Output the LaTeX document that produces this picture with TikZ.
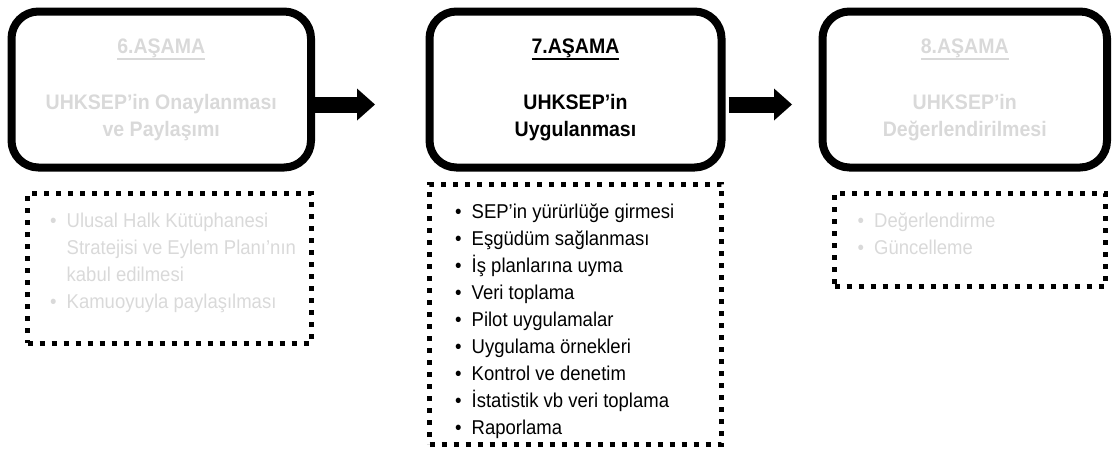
\documentclass[tikz,border=0pt]{standalone}
\usepackage{fontspec}
\setmainfont{Liberation Sans}
\newfontfamily\stagefont[FakeStretch=0.93]{Liberation Sans}
\newfontfamily\itemfont[FakeStretch=0.925]{Liberation Sans}
\usetikzlibrary{positioning,arrows.meta}

\definecolor{faded}{RGB}{217,217,217}
\newcommand{\bul}{\makebox[16.5pt][l]{•}}
\newcommand{\nobul}{\hspace*{16.5pt}}
\newcommand{\stageul}[1]{\setbox0\hbox{#1}\rlap{\rule[-6.7pt]{\wd0}{2pt}}\box0}

\begin{document}
\begin{tikzpicture}[
x=1pt, y=1pt,
stage/.style={draw, line width=8pt, rounded corners=27pt, outer sep=0pt, minimum height=156pt, align=center, font=\stagefont\fontsize{21}{26.5}\selectfont\bfseries},
tasks/.style={draw, line width=5pt, dash pattern=on 5pt off 7pt, outer sep=0pt, inner sep=0pt},
items/.style={align=left, inner sep=0pt, font=\itemfont\fontsize{20}{27}\selectfont},
flow/.style={line width=16pt, -{Triangle[width=32pt,length=18pt,line width=0pt]}},
]

\useasboundingbox (0,0) rectangle (1113,-467);

\node[stage, minimum width=299.5pt, text=faded] (s6) at (161.25,-89.5) {\stageul{6.AŞAMA}\\[30pt]UHKSEP’in Onaylanması\\ve Paylaşımı};
\node[stage, minimum width=292pt] (s7) [right=118.5pt of s6] {\stageul{7.AŞAMA}\\[30pt]UHKSEP’in\\Uygulanması};
\node[stage, minimum width=284.5pt, text=faded] (s8) [right=101pt of s7] {\stageul{8.AŞAMA}\\[30pt]UHKSEP’in\\Değerlendirilmesi};

\node[tasks, minimum width=283.5pt, minimum height=150pt] (l6) [below left=25.5pt and 0pt of s6.south east] {};
\node[tasks, minimum width=292pt, minimum height=260pt] (l7) [below=16.5pt of s7] {};
\node[tasks, minimum width=270.5pt, minimum height=93pt] (l8) [below left=25.5pt and 2pt of s8.south east] {};

% base anchor sits on the last line
\node[items, text=faded] (t6) [below right=115pt and 22.5pt of l6.north west, anchor=base west] {\bul Ulusal Halk Kütüphanesi\\\nobul Stratejisi ve Eylem Planı’nın\\\nobul kabul edilmesi\\\bul Kamuoyuyla paylaşılması};
\node[items] (t7) [below right=250.6pt and 25.5pt of l7.north west, anchor=base west] {\bul SEP’in yürürlüğe girmesi\\\bul Eşgüdüm sağlanması\\\bul İş planlarına uyma\\\bul Veri toplama\\\bul Pilot uygulamalar\\\bul Uygulama örnekleri\\\bul Kontrol ve denetim\\\bul İstatistik vb veri toplama\\\bul Raporlama};
\node[items, text=faded] (t8) [below right=61pt and 23pt of l8.north west, anchor=base west] {\bul Değerlendirme\\\bul Güncelleme};

\coordinate[below right=15pt and 64pt of s6.east] (a6);
\draw[flow] (s6.east |- a6) -- (a6);
\coordinate[below right=15pt and 7pt of s7.east] (f7);
\coordinate[below right=15pt and 70.5pt of s7.east] (a7);
\draw[flow] (f7) -- (a7);

\end{tikzpicture}
\end{document}
